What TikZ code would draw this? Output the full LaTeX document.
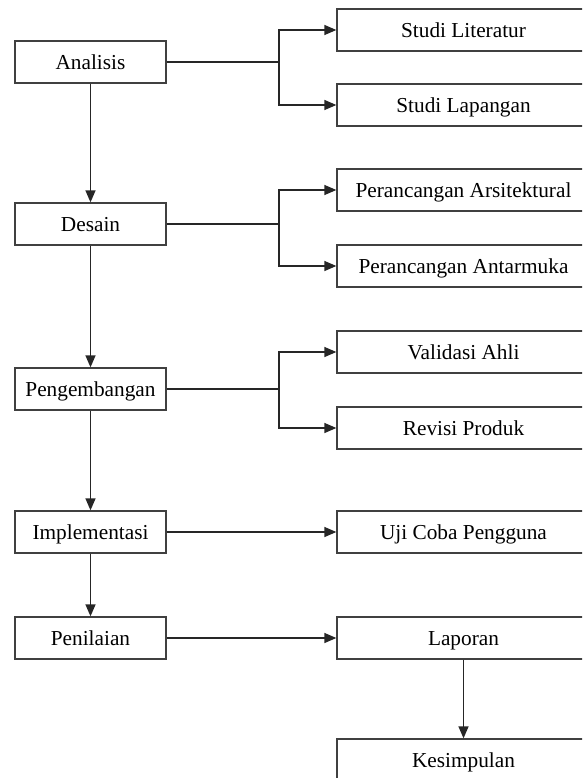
\documentclass[tikz,border=0pt]{standalone}
\usepackage{fontspec}
\setmainfont{Liberation Serif}
\usetikzlibrary{arrows.meta}
\begin{document}
\begin{tikzpicture}[x=1pt,y=-1pt,
  box/.style={draw=black!75, line width=1.3pt, minimum height=42pt, inner sep=0pt,
    font=\fontsize{21.3}{25}\selectfont, text height=15pt, text depth=0pt},
  lbox/.style={box, minimum width=151pt},
  rbox/.style={box, minimum width=253pt},
  conn/.style={line width=1.3pt, draw=black!85},
  arr/.style={conn, -{Triangle[length=12pt,width=10pt]}}]
\useasboundingbox (0,0) rectangle (582,778);
\clip (0,0) rectangle (582,778);
% left column
\node[lbox] (an) at (90.5,62) {Analisis};
\node[lbox] (de) at (90.5,224) {Desain};
\node[lbox] (pe) at (90.5,389) {Pengembangan};
\node[lbox] (im) at (90.5,532) {Implementasi};
\node[lbox] (pn) at (90.5,638) {Penilaian};
% right column
\node[rbox] (sl) at (463.5,30) {Studi Literatur};
\node[rbox] (sp) at (463.5,105) {Studi Lapangan};
\node[rbox] (pa) at (463.5,190) {Perancangan Arsitektural};
\node[rbox] (pm) at (463.5,266) {Perancangan Antarmuka};
\node[rbox] (va) at (463.5,352) {Validasi Ahli};
\node[rbox] (rp) at (463.5,428) {Revisi Produk};
\node[rbox] (uc) at (463.5,532) {Uji Coba Pengguna};
\node[rbox] (lp) at (463.5,638) {Laporan};
\node[rbox] (ks) at (463.5,760) {Kesimpulan};
% branch points
\coordinate (b1) at (279,62);
\coordinate (b2) at (279,224);
\coordinate (b3) at (279,389);
% vertical flow
\draw[arr] (an.south) -- (de.north);
\draw[arr] (de.south) -- (pe.north);
\draw[arr] (pe.south) -- (im.north);
\draw[arr] (im.south) -- (pn.north);
\draw[arr] (lp.south) -- (ks.north);
% branches
\draw[conn] (an.east) -- (b1);
\draw[arr] (b1) |- (sl.west);
\draw[arr] (b1) |- (sp.west);
\draw[conn] (de.east) -- (b2);
\draw[arr] (b2) |- (pa.west);
\draw[arr] (b2) |- (pm.west);
\draw[conn] (pe.east) -- (b3);
\draw[arr] (b3) |- (va.west);
\draw[arr] (b3) |- (rp.west);
\draw[arr] (im.east) -- (uc.west);
\draw[arr] (pn.east) -- (lp.west);
\end{tikzpicture}
\end{document}
